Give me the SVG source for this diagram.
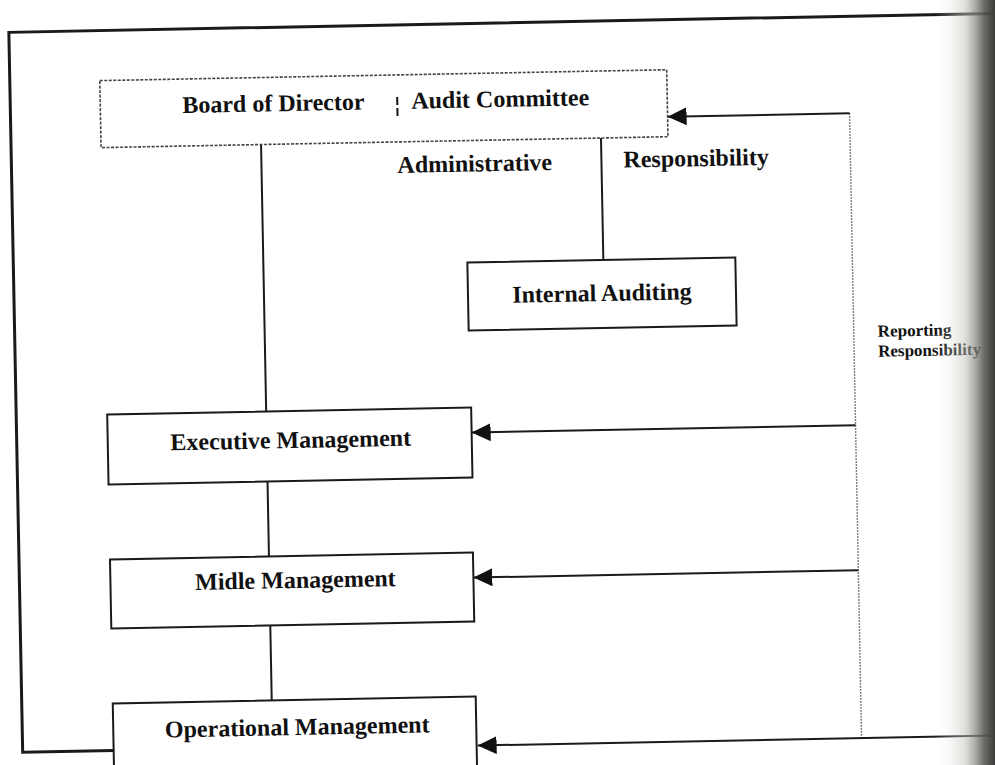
<svg xmlns="http://www.w3.org/2000/svg" width="995" height="765" viewBox="0 0 995 765">
<style>
  .box { fill: #ffffff; stroke: #1a1a1a; stroke-width: 2; }
  .dbox { fill: #ffffff; stroke: #444; stroke-width: 1.6; stroke-dasharray: 3 1.5; }
  .lbl { font-family: "Liberation Serif", "Times New Roman", serif; font-weight: bold; font-size: 24px; fill: #111; }
  .side { font-family: "Liberation Serif", "Times New Roman", serif; font-weight: bold; font-size: 17px; fill: #111; }
  .ln { fill: none; stroke: #1a1a1a; stroke-width: 2; }
  .dot { fill: none; stroke: #555; stroke-width: 1.4; stroke-dasharray: 1.5 1.5; }
  .frame { fill: none; stroke: #1a1a1a; stroke-width: 3; }
</style>
<defs>
  <marker id="ah" markerUnits="userSpaceOnUse" markerWidth="20" markerHeight="18" refX="19" refY="9" orient="auto">
    <path d="M0,0 L19,9 L0,18 Z" fill="#111"/>
  </marker>
  <linearGradient id="shade" x1="0" y1="0" x2="1" y2="0">
    <stop offset="0" stop-color="#ffffff" stop-opacity="0"/>
    <stop offset="0.5" stop-color="#bdbdb5" stop-opacity="0.5"/>
    <stop offset="0.82" stop-color="#5a5a55" stop-opacity="0.9"/>
    <stop offset="1" stop-color="#3a3a38" stop-opacity="1"/>
  </linearGradient>
</defs>
<rect x="0" y="0" width="995" height="765" fill="#ffffff"/>
<g transform="rotate(-1.1 500 400)">
  <g id="frame">
    <path class="frame" d="M1020,23 L16,23 L16,743 L107,743"/>
  </g>
  <g id="connectors">
    <line class="ln" x1="266" y1="140" x2="266" y2="407"/>
    <line class="ln" x1="606" y1="140" x2="606" y2="262"/>
    <line class="ln" x1="266" y1="477" x2="266" y2="552"/>
    <line class="ln" x1="266" y1="621" x2="266" y2="696"/>
    <line class="dot" x1="855" y1="120" x2="855" y2="745"/>
    <line class="ln" x1="855" y1="120" x2="673" y2="120" marker-end="url(#ah)"/>
    <line class="ln" x1="855" y1="432" x2="471" y2="432" stroke-width="1.6" marker-end="url(#ah)"/>
    <line class="ln" x1="855" y1="577" x2="470" y2="577" stroke-width="1.6" marker-end="url(#ah)"/>
    <line class="ln" x1="1020" y1="745" x2="471" y2="745" stroke-width="3" marker-end="url(#ah)"/>
  </g>
  <g id="board">
    <rect class="dbox" x="106" y="73" width="567" height="67"/>
    <text class="lbl" x="188" y="107">Board of Director</text>
    <line x1="403" y1="95" x2="403" y2="117" stroke="#111" stroke-width="2" stroke-dasharray="8 3"/>
    <text class="lbl" x="417" y="107">Audit Committee</text>
  </g>
  <g id="labels">
    <text class="lbl" x="402" y="171">Administrative</text>
    <text class="lbl" x="628" y="170">Responsibility</text>
    <text class="side" x="879" y="344">Reporting</text>
    <text class="side" x="879" y="364">Responsibility</text>
  </g>
  <g id="internal-auditing">
    <rect class="box" x="470" y="262" width="268" height="68"/>
    <text class="lbl" x="604" y="303" text-anchor="middle">Internal Auditing</text>
  </g>
  <g id="executive-management">
    <rect class="box" x="107" y="407" width="364" height="70"/>
    <text class="lbl" x="290" y="444" text-anchor="middle">Executive Management</text>
  </g>
  <g id="midle-management">
    <rect class="box" x="107" y="552" width="363" height="69"/>
    <text class="lbl" x="292" y="584" text-anchor="middle">Midle Management</text>
  </g>
  <g id="operational-management">
    <rect class="box" x="107" y="696" width="363" height="72"/>
    <text class="lbl" x="291" y="731" text-anchor="middle">Operational Management</text>
  </g>
</g>
<rect x="935" y="0" width="60" height="765" fill="url(#shade)"/>
</svg>
